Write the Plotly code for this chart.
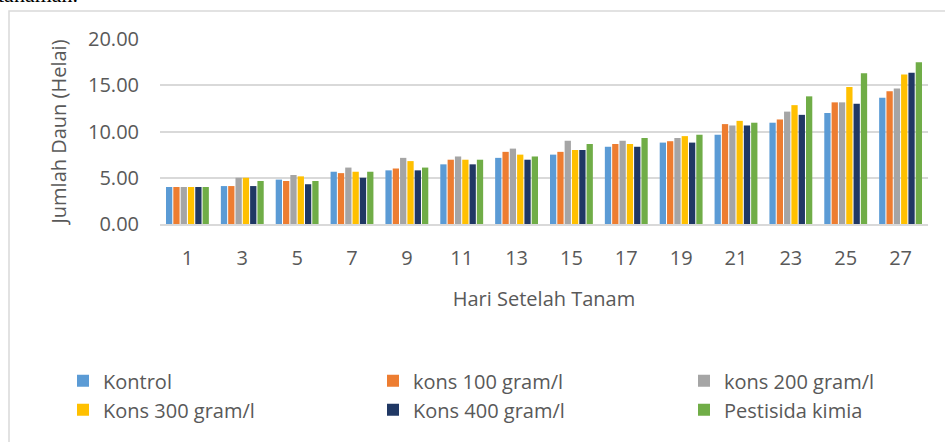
import plotly.graph_objects as go

days = ["1", "3", "5", "7", "9", "11", "13", "15", "17", "19", "21", "23", "25", "27"]

kontrol = [4.0, 4.1, 4.8, 5.65, 5.8, 6.45, 7.15, 7.5, 8.35, 8.8, 9.65, 10.95, 12.0, 13.65]
kons100 = [4.0, 4.1, 4.65, 5.5, 6.0, 6.95, 7.8, 7.8, 8.65, 8.95, 10.8, 11.3, 13.15, 14.35]
kons200 = [4.0, 5.0, 5.3, 6.1, 7.15, 7.3, 8.15, 9.0, 9.0, 9.3, 10.65, 12.15, 13.15, 14.65]
kons300 = [4.0, 5.0, 5.15, 5.65, 6.8, 6.95, 7.5, 8.0, 8.65, 9.5, 11.15, 12.85, 14.8, 16.15]
kons400 = [4.0, 4.1, 4.3, 5.0, 5.8, 6.45, 6.95, 8.0, 8.35, 8.8, 10.65, 11.8, 13.0, 16.35]
pestisida = [4.0, 4.65, 4.65, 5.65, 6.1, 6.95, 7.3, 8.65, 9.3, 9.65, 10.95, 13.8, 16.3, 17.5]

series_names = ["Kontrol", "kons 100 gram/l", "kons 200 gram/l",
                "Kons 300 gram/l", "Kons 400 gram/l", "Pestisida kimia"]
series_values = [kontrol, kons100, kons200, kons300, kons400, pestisida]
colors = ["#5B9BD5", "#ED7D31", "#A5A5A5", "#FFC000", "#203864", "#70AD47"]
# legend column for each series (3 columns x 2 rows, like the reference)
legend_ids = ["legend", "legend2", "legend3", "legend", "legend2", "legend3"]

y_ticks = [0, 5, 10, 15, 20]
y_tick_labels = ["0.00", "5.00", "10.00", "15.00", "20.00"]

W, H = 945, 442
L, R, T, B = 160, 17, 38.7, 214.3
pw, ph = W - L - R, H - T - B

fig = go.Figure()
for name, vals, col, lg in zip(series_names, series_values, colors, legend_ids):
    fig.add_trace(go.Bar(x=days, y=vals, name=name, marker_color=col,
                         marker_line_width=0, legend=lg))

font_family = "Open Sans, Segoe UI, sans-serif"
grey = "#595959"


def legend_at(px_left):
    return dict(orientation="v", xref="paper", yref="paper",
                x=(px_left - L) / pw, y=(H - B - 368) / ph,
                xanchor="left", yanchor="top", traceorder="normal",
                font=dict(family=font_family, size=20, color=grey),
                bgcolor="rgba(0,0,0,0)")


fig.update_layout(
    width=W, height=H,
    margin=dict(l=L, r=R, t=T, b=B, pad=0),
    paper_bgcolor="white", plot_bgcolor="white",
    barmode="group", bargap=0.2, bargroupgap=0.14,
    font=dict(family=font_family, size=20, color=grey),
    showlegend=True,
    legend=legend_at(63),
    legend2=legend_at(373),
    legend3=legend_at(684),
    xaxis=dict(type="category", showgrid=False, showline=True,
               linecolor="#D9D9D9", linewidth=1.5, ticks="",
               tickfont=dict(size=20, color=grey),
               ticklabelstandoff=15,
               title=dict(text="Hari Setelah Tanam",
                          font=dict(size=20, color=grey), standoff=22)),
    yaxis=dict(range=[0, 20], tickvals=y_ticks, ticktext=y_tick_labels,
               showgrid=True, gridcolor="#D9D9D9", gridwidth=1.5,
               zeroline=False, showline=False, ticks="",
               tickfont=dict(size=20, color=grey),
               ticklabelstandoff=20,
               title=dict(text="Jumlah Daun (Helai)",
                          font=dict(size=20, color=grey), standoff=16)),
)

# chart frame (extends past the window on right/bottom)
fig.add_shape(type="rect", xref="paper", yref="paper",
              x0=(9 - L) / pw, x1=(W + 20 - L) / pw,
              y0=(H - B - (H + 20)) / ph, y1=(H - B - 10) / ph,
              line=dict(color="#D9D9D9", width=1.5), fillcolor="rgba(0,0,0,0)",
              layer="below")

# clipped document text above the chart
fig.add_annotation(text="tanaman.", xref="paper", yref="paper",
                   x=(80 - L) / pw, y=(H - B - 8) / ph,
                   xanchor="right", yanchor="bottom", showarrow=False,
                   font=dict(family="Liberation Serif, serif", size=22, color="black"))

fig.write_html("out.html",
               config={"displayModeBar": False},
               post_script="document.body.style.margin='0px';document.body.style.overflow='hidden';")
